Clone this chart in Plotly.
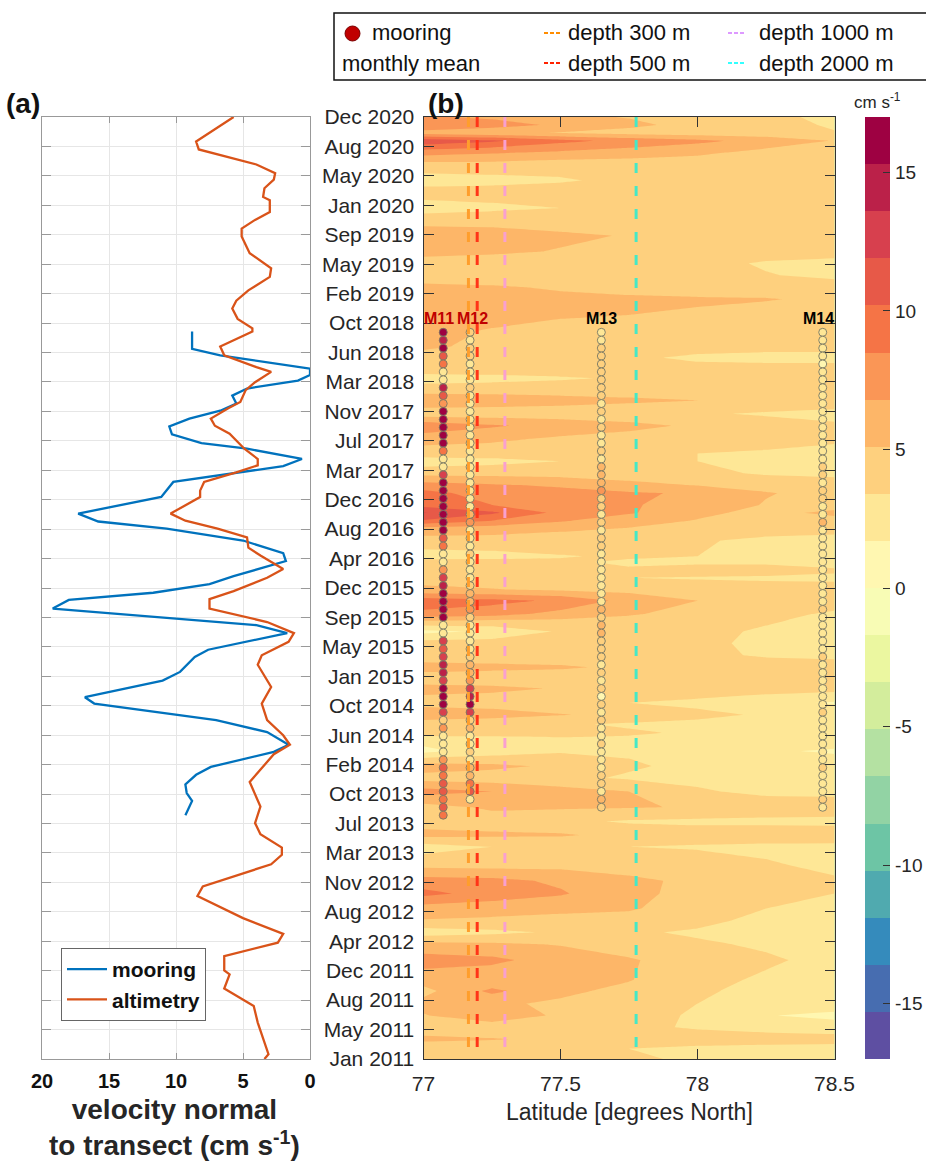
import numpy as np
import plotly.graph_objects as go

# ---------------- data ----------------
TICK_LABELS = ["Jan 2011", "May 2011", "Aug 2011", "Dec 2011", "Apr 2012", "Aug 2012", "Nov 2012",
               "Mar 2013", "Jul 2013", "Oct 2013", "Feb 2014", "Jun 2014", "Oct 2014", "Jan 2015",
               "May 2015", "Sep 2015", "Dec 2015", "Apr 2016", "Aug 2016", "Dec 2016", "Mar 2017",
               "Jul 2017", "Nov 2017", "Mar 2018", "Jun 2018", "Oct 2018", "Feb 2019", "May 2019",
               "Sep 2019", "Jan 2020", "May 2020", "Aug 2020", "Dec 2020"]
MONTH_MAX = 119  # months since Jan 2011 (Dec 2020)

# panel (a): velocity normal to transect (cm/s), month index since Jan 2011
ALT_MONTH = [0, 0.6, 4.6, 6.7, 8.9, 10.7, 11.2, 13.0, 14.7, 15.8, 17.8, 20.6, 21.8, 24.6, 25.8, 26.7,
             28.4, 29.8, 31.9, 35.0, 38.5, 39.7, 40.9, 42.8, 44.9, 47.0, 49.8, 51.0, 52.7, 53.8,
             55.2, 56.9, 58.1, 59.1, 60.8, 61.9, 63.6, 64.6, 65.9, 67.0, 68.0, 68.9, 71.0, 71.8,
             72.9, 74.1, 75.0, 75.8, 77.1, 79.0, 80.0, 80.9, 82.2, 83.0, 84.5, 85.5, 86.8, 87.4,
             88.9, 90.0, 91.9, 92.3, 93.5, 94.8, 95.8, 97.1, 98.8, 99.9, 101.8, 103.9, 104.9,
             106.0, 107.0, 108.5, 108.9, 110.0, 111.1, 111.9, 113.0, 114.9, 115.9, 119.0]
ALT_VEL = [3.4, 3.1, 3.9, 4.2, 6.4, 6.0, 6.4, 6.4, 2.4, 2.0, 5.0, 8.4, 8.0, 2.9, 2.1, 2.1,
           3.7, 4.1, 3.7, 4.5, 2.7, 1.5, 2.0, 3.2, 3.6, 2.9, 3.9, 3.6, 1.6, 1.2,
           3.2, 7.5, 7.5, 5.7, 3.2, 2.0, 3.7, 4.6, 4.7, 6.9, 9.3, 10.4, 8.2, 8.2,
           7.9, 5.5, 3.9, 3.9, 4.9, 6.0, 7.1, 7.4, 6.1, 5.2, 4.8, 4.1, 2.9, 4.0,
           6.4, 6.7, 4.3, 4.3, 5.4, 5.8, 5.5, 4.6, 3.0, 2.9, 4.5, 5.1, 5.1,
           4.1, 3.0, 3.0, 3.5, 3.4, 2.7, 2.6, 4.0, 8.3, 8.5, 5.7]

MOOR_MONTH = [30.8, 32.6, 33.6, 34.7, 35.9, 36.9, 38.8, 39.7, 41.3, 42.8, 44.9, 45.7, 47.8, 48.9,
              50.8, 51.7, 53.8, 54.8, 56.9, 58.0, 58.9, 60.0, 61.0, 62.9, 63.9, 65.5, 67.0, 67.9,
              68.9, 71.0, 72.9, 74.9, 75.8, 77.1, 77.8, 78.9, 79.9, 80.9, 81.9, 82.8, 83.8, 84.7,
              85.7, 86.4, 87.2, 88.9, 89.7, 91.9]
MOOR_VEL = [9.3, 8.8, 9.2, 9.3, 8.5, 7.4, 2.7, 1.6, 3.2, 7.0, 16.1, 16.8, 11.0, 9.7,
            8.6, 7.6, 1.7, 4.0, 19.2, 18.0, 11.7, 7.5, 5.7, 1.8, 2.0, 5.0, 10.7, 15.8,
            17.3, 11.1, 10.2, 2.0, 0.6, 4.7, 8.1, 10.3, 10.5, 9.0, 6.7, 5.5, 5.8, 4.7,
            0.9, 0.0, 0.0, 6.7, 8.8, 8.8]

# panel (b): monthly mean velocity field (cm/s) on latitude x time
FIELD_LAT = [77.0, 77.25, 77.5, 77.75, 78.0, 78.25, 78.5]
FIELD_MONTH = [0, 1.3, 2.5, 4, 5.5, 7, 8.6, 10, 12.5, 14.5, 16, 17.5, 19, 20.9, 22.5, 24.5, 26.8,
               28.3, 30, 31.8, 33.8, 35.5, 37, 38.9, 40.5, 41.2, 42.3, 43.5, 45, 46.8, 48, 49.5,
               51, 52.5, 54, 55.5, 56.2, 57.9, 59.3, 60.8, 61.6, 62.8, 63.5, 65.5, 67, 68, 69, 70,
               71.5, 72.5, 74, 75.5, 76.5, 78.3, 80, 81.5, 83.2, 84.5, 86, 87, 88.6, 90, 92, 94,
               96, 97.5, 99, 100.5, 102, 104, 106, 107.5, 109.5, 111, 113, 114.5, 116, 117, 118,
               119]
FIELD_VEL = [
    [4.6, 4.4, 4.0, 3.6, 3.2, 3.0, 3.0],
    [4.2, 4.0, 3.8, 3.4, 3.0, 2.8, 2.8],
    [5.4, 5.2, 4.8, 4.5, 4.3, 4.2, 4.0],
    [4.4, 4.2, 3.9, 3.8, 3.2, 2.8, 2.6],
    [5.0, 6.2, 4.8, 4.0, 3.2, 1.8, 1.2],
    [5.6, 5.4, 4.8, 4.2, 3.4, 3.0, 2.8],
    [4.6, 7.2, 5.5, 4.6, 3.6, 3.0, 3.0],
    [5.8, 5.6, 5.4, 5.2, 3.8, 3.2, 3.0],
    [7.6, 7.2, 6.0, 5.2, 4.6, 3.6, 3.0],
    [5.6, 5.4, 5.0, 4.6, 3.6, 3.2, 3.0],
    [2.5, 3.0, 3.6, 3.6, 3.2, 3.0, 3.0],
    [5.0, 4.8, 4.6, 4.4, 3.8, 3.0, 3.0],
    [6.0, 5.8, 5.5, 5.3, 4.2, 3.4, 3.0],
    [9.0, 7.8, 7.0, 5.5, 4.6, 4.0, 3.4],
    [7.5, 7.3, 6.5, 5.4, 4.8, 4.4, 3.6],
    [4.6, 4.5, 4.6, 4.5, 4.4, 3.6, 3.0],
    [2.6, 3.4, 3.8, 3.4, 3.2, 3.0, 3.0],
    [5.6, 5.4, 5.3, 4.6, 4.4, 4.4, 4.3],
    [4.4, 4.2, 3.8, 3.2, 3.0, 3.0, 3.0],
    [4.4, 5.4, 5.3, 5.2, 5.0, 4.4, 4.2],
    [7.5, 6.8, 5.8, 5.1, 3.6, 3.0, 3.0],
    [4.4, 4.2, 3.8, 3.2, 3.0, 3.0, 3.0],
    [6.0, 5.5, 4.8, 3.6, 3.0, 3.0, 3.0],
    [1.2, 2.5, 3.2, 3.2, 3.0, 2.0, 1.4],
    [2.5, 2.8, 3.2, 3.2, 3.0, 3.0, 3.0],
    [4.6, 4.4, 4.2, 3.6, 3.2, 3.0, 3.0],
    [4.2, 4.0, 3.6, 3.2, 3.0, 3.0, 3.0],
    [6.2, 5.8, 5.2, 4.6, 3.8, 3.2, 3.0],
    [4.5, 4.4, 4.0, 3.4, 3.0, 2.2, 1.5],
    [5.6, 5.4, 5.0, 4.6, 4.4, 4.2, 4.0],
    [4.4, 4.4, 4.2, 4.2, 4.2, 4.0, 3.8],
    [5.6, 5.4, 5.3, 4.8, 4.4, 4.3, 4.2],
    [4.4, 4.4, 4.2, 4.2, 3.8, 3.2, 3.0],
    [4.2, 4.2, 4.0, 3.8, 3.6, 3.2, 3.0],
    [1.2, 2.0, 3.6, 4.0, 3.8, 3.2, 3.0],
    [5.5, 5.2, 5.0, 4.6, 4.2, 3.6, 3.0],
    [8.0, 7.5, 6.2, 5.3, 4.4, 3.8, 3.2],
    [9.5, 9.0, 8.2, 6.2, 5.1, 4.4, 4.0],
    [5.5, 5.2, 4.8, 4.6, 4.5, 4.4, 4.2],
    [4.4, 4.2, 4.0, 3.4, 3.2, 3.0, 3.0],
    [4.2, 4.2, 4.0, 3.6, 4.4, 4.4, 3.6],
    [4.2, 4.0, 3.6, 3.2, 3.0, 3.0, 3.0],
    [2.5, 2.8, 3.3, 3.6, 3.4, 3.0, 2.8],
    [4.5, 4.5, 4.3, 4.0, 3.6, 3.0, 2.8],
    [6.0, 5.8, 5.4, 5.0, 4.5, 4.2, 4.0],
    [10.0, 8.5, 7.0, 5.8, 5.0, 4.5, 4.5],
    [12.0, 10.5, 8.0, 7.0, 5.5, 4.6, 5.5],
    [9.5, 8.5, 7.6, 7.0, 6.0, 5.0, 4.4],
    [9.0, 7.8, 7.5, 7.0, 6.6, 5.2, 4.6],
    [7.5, 7.0, 6.5, 5.6, 5.0, 4.5, 4.2],
    [4.5, 4.5, 4.4, 4.2, 3.8, 3.2, 3.0],
    [2.5, 2.9, 3.4, 3.6, 3.4, 3.0, 3.0],
    [4.2, 4.2, 4.0, 3.8, 3.4, 3.2, 3.0],
    [5.8, 5.4, 4.8, 4.4, 4.2, 4.0, 3.6],
    [8.0, 7.0, 6.2, 5.6, 4.8, 4.2, 3.6],
    [4.2, 4.2, 4.2, 4.0, 3.6, 3.2, 3.0],
    [6.2, 6.0, 5.7, 5.4, 5.1, 4.6, 4.2],
    [4.5, 4.5, 4.4, 4.3, 4.2, 4.2, 4.2],
    [2.5, 2.8, 3.2, 3.6, 4.0, 4.2, 4.2],
    [4.2, 4.2, 4.2, 4.2, 4.2, 4.2, 4.2],
    [4.2, 4.2, 4.2, 3.8, 3.0, 2.8, 2.8],
    [5.5, 4.5, 4.2, 4.2, 4.2, 4.0, 4.0],
    [5.5, 5.0, 4.5, 4.2, 4.2, 4.2, 4.2],
    [6.0, 5.6, 5.3, 5.1, 4.9, 4.5, 4.2],
    [5.5, 5.5, 5.5, 5.4, 5.3, 5.2, 4.8],
    [5.6, 5.3, 4.9, 4.5, 4.2, 4.2, 4.2],
    [4.0, 4.0, 4.2, 4.2, 4.0, 3.5, 3.0],
    [4.2, 4.2, 4.2, 4.2, 4.0, 3.2, 2.8],
    [5.8, 5.4, 5.0, 4.5, 4.2, 4.2, 4.2],
    [6.0, 5.8, 5.4, 5.0, 4.5, 4.2, 4.0],
    [4.5, 4.5, 4.2, 4.2, 4.2, 4.2, 4.2],
    [2.5, 3.0, 3.4, 3.8, 4.2, 4.2, 4.0],
    [4.2, 4.2, 4.2, 4.2, 4.2, 4.2, 4.2],
    [2.5, 2.8, 3.2, 3.8, 4.0, 4.0, 3.8],
    [4.5, 4.5, 4.2, 4.2, 4.0, 4.0, 3.8],
    [7.5, 7.0, 6.5, 6.0, 5.5, 4.5, 4.0],
    [11.5, 10.5, 9.0, 8.0, 7.2, 6.2, 5.0],
    [6.0, 5.5, 5.0, 4.5, 4.2, 4.0, 3.5],
    [8.5, 7.5, 6.5, 5.5, 4.5, 4.0, 3.2],
    [7.0, 6.5, 5.5, 5.0, 4.5, 3.8, 3.0],
]
assert len(FIELD_MONTH) == len(FIELD_VEL)

# moorings: monthly means, first value = Sep 2018 (month 92), going back one month per value
MOORING_NAMES = ["M11", "M12", "M13", "M14"]
MOORING_LATS = [77.072, 77.170, 77.649, 78.457]
MOORING_FIRST_MONTH = 91.8
M11_VEL = [17, 14, 17, 11.5, 9, 2.5, 2.5, 14.5, 11, 7, 17, 17, 17, 17, 17, 8.5, 2.5, 2.5, 12.5,
           17, 17, 17, 17, 17, 17, 17, 10.5, 10, 2.5, 3, 8, 12.5, 15, 16, 17, 17, 17, 2.5, 2.5,
           13, 10.5, 12.5, 14.5, 14.5, 13, 17, 17, 17, 12.5, 4, 7.5, 2.5, 2.5, 2.5, 7, 11, 10,
           10.5, 11, 8.5, 11, 10]
M12_VEL = [3.5, 2.5, 4, 4, 2.5, 2.5, 2.5, 4, 2.5, 2.5, 2.5, 2.5, 2.5, 2.5, 2.5, 2.5, 2.5, 2.5,
           2.5, 2.5, 2.5, 2.5, 2.5, 6, 7, 2.5, 2.5, 2.5, 3.5, 2.5, 2.5, 2.5, 4, 5.5, 6.5, 7, 5,
           2.5, 2.5, 2.5, 2.5, 5, 6.5, 6.5, 7, 13, 14.5, 16.5, 13, 5, 6.5, 2.5, 2, 3.5, 3, 6,
           6.5, 9.5, 10.5, 3]
M13_VEL = [2.5, 2.5, 3.5, 3.5, 4, 4, 4, 4, 4, 2.5, 4, 2.5, 4, 2.5, 2.5, 4, 2.5, 5.5, 5.5, 5.5,
           7, 5, 4, 2.5, 4, 2.5, 4, 4, 2.5, 2.5, 2.5, 2.5, 2.5, 2.5, 2.5, 6, 4, 6.5, 5.5, 4, 4,
           4, 2.5, 4, 2.5, 4, 1.5, 4, 2.5, 4, 2.5, 2.5, 4, 2.5, 2.5, 2.5, 4, 4, 2.5, 5.5, 5]
M14_VEL = [2.5, 2.5, 2.5, 2.5, 1.5, 2.5, 2.5, 2.5, 2.5, 2.5, 2.5, 2.5, 2.5, 2.5, 2.5, 2.5, 2.5,
           4, 4, 2.5, 4, 4, 2.5, 2.5, 6.5, 2.5, 2.5, 2.5, 2.5, 2.5, 2.5, 2.5, 2.5, 2.5, 2.5, 4,
           2.5, 2.5, 2.5, 2.5, 2.5, 4, 2.5, 2.5, 2.5, 2.5, 2.5, 2.5, 4, 2.5, 2.5, 2.5, 2.5, 2.5,
           2.5, 4, 2.5, 2.5, 2.5, 5, 2.5]
MOORING_VELS = [M11_VEL, M12_VEL, M13_VEL, M14_VEL]

# isobath latitudes along the transect
DEPTH_LABELS = ["depth 300 m", "depth 500 m", "depth 1000 m", "depth 2000 m"]
DEPTH_LATS = [77.164, 77.196, 77.297, 77.776]

CLIM = 17.0
N_LEVELS = 20
COLORBAR_TICKS = [-15, -10, -5, 0, 5, 10, 15]

# ---------------- styling helpers ----------------
W, H = 926, 1162
FONT = "Liberation Sans"
SPECTRAL = ['#5e4fa2', '#3288bd', '#66c2a5', '#abdda4', '#e6f598', '#ffffbf',
            '#fee08b', '#fdae61', '#f46d43', '#d53e4f', '#9e0142']


def hex2rgb(h):
    h = h.lstrip('#')
    return [int(h[i:i + 2], 16) for i in (0, 2, 4)]


def sample(p):
    n = len(SPECTRAL) - 1
    pos = p * n
    i = min(int(np.floor(pos)), n - 1)
    f = pos - i
    a, b = hex2rgb(SPECTRAL[i]), hex2rgb(SPECTRAL[i + 1])
    c = [round(a[j] + (b[j] - a[j]) * f) for j in range(3)]
    return 'rgb(%d,%d,%d)' % tuple(c)


BAND_COLORS = [sample(k / (N_LEVELS - 1)) for k in range(N_LEVELS)]
STEP = 2 * CLIM / N_LEVELS
contour_scale = [[k / (N_LEVELS - 1), BAND_COLORS[k]] for k in range(N_LEVELS)]
step_scale = []
for k in range(N_LEVELS):
    step_scale.append([k / N_LEVELS, BAND_COLORS[k]])
    step_scale.append([(k + 1) / N_LEVELS, BAND_COLORS[k]])


def px(x):
    return x / W


def py(y):
    return 1 - y / H


Y_DOM = [py(1059), py(117)]
tickvals = list(np.linspace(0, MONTH_MAX, len(TICK_LABELS)))

fig = go.Figure()

# ---- panel (a)
fig.add_trace(go.Scatter(x=MOOR_VEL, y=MOOR_MONTH, mode='lines', name='<b>mooring</b>',
                         line=dict(color='#0072BD', width=2.3), xaxis='x', yaxis='y'))
fig.add_trace(go.Scatter(x=ALT_VEL, y=ALT_MONTH, mode='lines', name='<b>altimetry</b>',
                         line=dict(color='#D95319', width=2.3), xaxis='x', yaxis='y'))

# ---- panel (b) contour field
fig.add_trace(go.Contour(x=FIELD_LAT, y=FIELD_MONTH, z=FIELD_VEL, xaxis='x2', yaxis='y2',
                         autocontour=False,
                         contours=dict(start=-CLIM + STEP, end=CLIM - STEP, size=STEP,
                                       coloring='fill', showlines=False),
                         line=dict(width=0), line_smoothing=0,
                         colorscale=contour_scale, showscale=False, showlegend=False,
                         hoverinfo='skip'))

# moorings dots
for lat, vel in zip(MOORING_LATS, MOORING_VELS):
    months = [MOORING_FIRST_MONTH - i for i in range(len(vel))]
    fig.add_trace(go.Scatter(x=[lat] * len(vel), y=months, mode='markers', xaxis='x2', yaxis='y2',
                             showlegend=False,
                             marker=dict(size=8, color=vel, colorscale=step_scale, cmin=-CLIM,
                                         cmax=CLIM, line=dict(color='rgba(120,120,100,0.9)', width=1))))

# isobath dashed lines
DEPTH_PLOT_COLORS = ['#FF9E2C', '#FF3418', '#F9A0CF', '#45E8C6']
for lat, col in zip(DEPTH_LATS, DEPTH_PLOT_COLORS):
    fig.add_trace(go.Scatter(x=[lat, lat], y=[MONTH_MAX, 0], mode='lines', xaxis='x2', yaxis='y2',
                             showlegend=False, hoverinfo='skip',
                             line=dict(color=col, width=3, dash='10px,13px')))

# ---- colorbar as its own axis
centers = [-CLIM + STEP * (k + 0.5) for k in range(N_LEVELS)]
fig.add_trace(go.Heatmap(x=[0], y=centers, z=[[c] for c in centers], xaxis='x3', yaxis='y3',
                         colorscale=step_scale, zmin=-CLIM, zmax=CLIM, showscale=False,
                         hoverinfo='skip'))

axis_font = dict(family=FONT, size=21, color='#262626')
fig.update_layout(
    template='none',
    width=W, height=H, autosize=False,
    margin=dict(l=0, r=0, t=0, b=0, pad=0, autoexpand=False),
    paper_bgcolor='white', plot_bgcolor='white',
    font=dict(family=FONT, color='#262626'),
    xaxis=dict(domain=[px(42), px(310)], range=[20, 0], tickvals=[0, 5, 10, 15, 20],
               ticktext=['<b>0</b>', '<b>5</b>', '<b>10</b>', '<b>15</b>', '<b>20</b>'],
               tickfont=dict(family=FONT, size=20, color='#111'), ticks='inside', ticklen=6,
               tickcolor='#999', showline=True, linecolor='#999', mirror='ticks',
               showgrid=True, gridcolor='#e6e6e6', zeroline=False, anchor='y',
               ticklabelstandoff=4, automargin=False),
    yaxis=dict(domain=Y_DOM, range=[0, MONTH_MAX], tickvals=tickvals, showticklabels=False,
               ticks='inside', ticklen=9, tickcolor='#999', showline=True, linecolor='#999',
               mirror='ticks', showgrid=True, gridcolor='#e6e6e6', zeroline=False, anchor='x',
               automargin=False),
    xaxis2=dict(domain=[px(423.5), px(834.5)], range=[77, 78.5], tickvals=[77, 77.5, 78, 78.5],
                ticktext=['77', '77.5', '78', '78.5'], tickfont=axis_font, ticks='inside',
                ticklen=10, tickcolor='#333', showline=True, linecolor='#333', mirror='ticks',
                showgrid=False, zeroline=False, anchor='y2', ticklabelstandoff=6,
                automargin=False),
    yaxis2=dict(domain=Y_DOM, range=[0, MONTH_MAX], tickvals=tickvals, ticktext=TICK_LABELS,
                tickfont=axis_font, ticks='inside', ticklen=10, tickcolor='#333', showline=True,
                linecolor='#333', mirror='ticks', showgrid=False, zeroline=False, anchor='x2',
                ticklabelstandoff=4, automargin=False),
    xaxis3=dict(domain=[px(865), px(890)], range=[-0.5, 0.5], visible=False, anchor='y3',
                automargin=False),
    yaxis3=dict(domain=Y_DOM, range=[-CLIM, CLIM], side='right', tickvals=COLORBAR_TICKS,
                ticktext=[str(t) for t in COLORBAR_TICKS],
                tickfont=dict(family=FONT, size=19, color='#262626'), ticks='inside', ticklen=7,
                tickcolor='#333', showline=False, showgrid=False, zeroline=False, anchor='x3',
                ticklabelstandoff=4, automargin=False),
    legend=dict(x=px(61), y=py(948), xanchor='left', yanchor='top', bgcolor='white',
                bordercolor='#666', borderwidth=1, font=dict(family=FONT, size=21, color='#111'),
                itemwidth=40, tracegroupgap=0),
    showlegend=True,
)


def txt(text, x, y, size, xanchor='center', color='#111', **kw):
    return dict(text=text, x=x, y=y, xref='paper', yref='paper', xanchor=xanchor,
                yanchor='middle', showarrow=False,
                font=dict(family=FONT, size=size, color=color), **kw)


ann = []
ann.append(txt('<b>(a)</b>', px(23), py(104), 28))
ann.append(txt('<b>(b)</b>', px(446), py(104), 28))
ann.append(txt('<b>velocity normal<br>to transect (cm s<sup>-1</sup>)</b>', px(174), py(1127), 28,
               color='#262626', align='center'))
ann.append(txt('Latitude [degrees North]', px(629), py(1112), 23, color='#262626'))
ann.append(txt('cm s<sup>-1</sup>', px(877), py(101), 17, color='#262626'))
LABEL_SHIFT = [-4, 2, 0, -4]
for name, lat, sh in zip(MOORING_NAMES, MOORING_LATS, LABEL_SHIFT):
    ann.append(dict(text='<b>%s</b>' % name, x=lat, y=93.6, xref='x2', yref='y2', xshift=sh,
                    xanchor='center', yanchor='middle', showarrow=False,
                    font=dict(family=FONT, size=16,
                              color='#C00000' if name in ('M11', 'M12') else '#000')))

# top legend box
shapes = [dict(type='rect', xref='paper', yref='paper', x0=px(334), x1=1.01, y0=py(80), y1=py(13),
               line=dict(color='#111', width=1.5), fillcolor='white')]
shapes.append(dict(type='circle', xref='paper', yref='paper', x0=px(345), x1=px(360),
                   y0=py(41), y1=py(26), fillcolor='#C00000', line=dict(color='#7a0000', width=1)))
ann.append(txt('mooring', px(370), py(33), 22, xanchor='left'))
ann.append(txt('monthly mean', px(340), py(63), 22, xanchor='left'))
LEG_COLORS = ['#FF8C00', '#FF2200', '#DD99FF', '#33FFFF']
leg_pos = [(544, 566, 33), (544, 566, 63), (728, 757, 33), (728, 757, 63)]
for (x0, xt, yy), col, lab in zip(leg_pos, LEG_COLORS, DEPTH_LABELS):
    shapes.append(dict(type='line', xref='paper', yref='paper', x0=px(x0), x1=px(x0 + 18),
                       y0=py(yy), y1=py(yy), line=dict(color=col, width=1.8, dash='4px,2px')))
    ann.append(txt(lab, px(xt), py(yy), 22, xanchor='left'))

fig.update_layout(annotations=ann, shapes=shapes)
fig.write_html("out.html")
